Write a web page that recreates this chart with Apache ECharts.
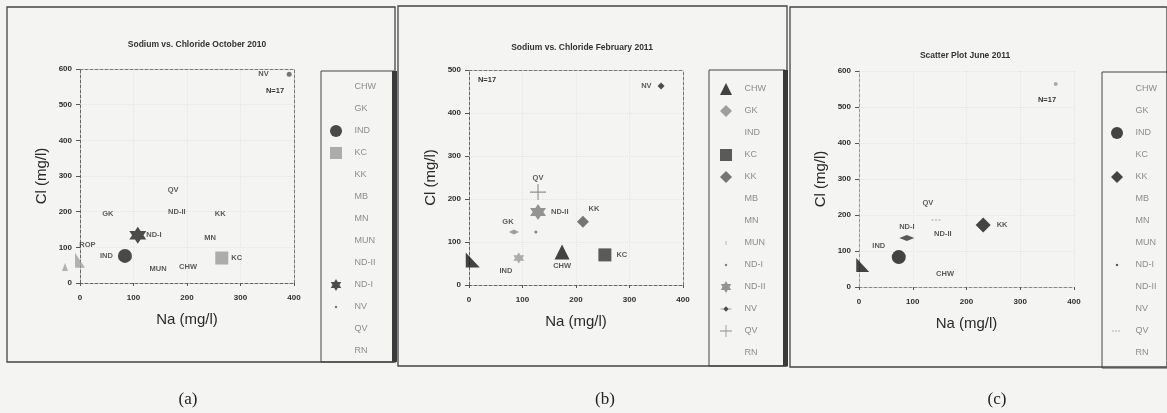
<!DOCTYPE html>
<html><head><meta charset="utf-8">
<script src="https://cdn.jsdelivr.net/npm/echarts@6/dist/echarts.min.js"></script>
<style>html,body{margin:0;padding:0;background:#f4f4f2}#c{width:1167px;height:413px}</style>
</head><body><div id="c"></div>
<script>
// ---------- data ----------
const LEGEND_A  = ['CHW','GK','IND','KC','KK','MB','MN','MUN','ND-II','ND-I','NV','QV','RN'];
const LEGEND_BC = ['CHW','GK','IND','KC','KK','MB','MN','MUN','ND-I','ND-II','NV','QV','RN'];

const NA_MAX = 400, NA_STEP = 100;
const CL_STEP = 100;
const octClMax = 600, febClMax = 500, junClMax = 600;

// (a) October 2010
const octSites = ['IND','KC','ND-I','NV','CHW','GK','KK','MN','MUN','ND-II','QV','ROP'];
const octNa    = [84, 265, 108, 391, 202, 52, 262, 243, 146, 181, 174, 14];
const octCl    = [76, 70, 134, 585, 45, 193, 193, 126, 39, 199, 260, 106];
const octExtraNa = [0, -28];
const octExtraCl = [64, 45];

// (b) February 2011
const febSites = ['CHW','GK','IND','KC','KK','ND-I','ND-II','NV','QV'];
const febNa    = [174, 84, 69, 254, 213, 125, 129, 359, 129];
const febCl    = [77, 123, 33, 70, 147, 123, 170, 463, 216];
const febExtraNa = [7, 93];
const febExtraCl = [58, 63];

// (c) June 2011
const junSites = ['CHW','IND','KK','ND-I','ND-II','NV','QV'];
const junNa    = [160, 74, 231, 89, 156, 366, 145];
const junCl    = [36, 83, 172, 136, 147, 564, 186];
const junExtraNa = [7];
const junExtraCl = [61];

// ---------- symbols & styles ----------
const STAR6 = 'path://M0,-10L2.89,-5L8.66,-5L5.77,0L8.66,5L2.89,5L0,10L-2.89,5L-8.66,5L-5.77,0L-8.66,-5L-2.89,-5Z';
const RTRI = 'path://M0,0L0,10L10,10Z';
const PLUS = 'path://M-0.7,-10L0.7,-10L0.7,-0.7L10,-0.7L10,0.7L0.7,0.7L0.7,10L-0.7,10L-0.7,0.7L-10,0.7L-10,-0.7L-0.7,-0.7Z';
const DOT_SMALL = 'path://M-10,-10M10,10M-1.8,-1.8L1.8,-1.8L1.8,1.8L-1.8,1.8Z';
const TICK_SMALL = 'path://M-10,-10M10,10M-0.6,-3.5L0.6,-3.5L0.6,3.5L-0.6,3.5Z';
const NV_B = 'path://M-10,-10M10,10M-9,-0.6L9,-0.6L9,0.6L-9,0.6Z M0,-4.5L4.5,0L0,4.5L-4.5,0Z';
const DASH_SMALL = 'path://M-10,-10M10,10M-8,-0.7L-5,-0.7L-5,0.7L-8,0.7Z M-3,-0.7L0,-0.7L0,0.7L-3,0.7Z M2,-0.7L5,-0.7L5,0.7L2,0.7Z';

const styleA = {
  IND: {symbol:'circle', size:14, color:'#1e1e1e', pos:'left', dist:5},
  KC: {symbol:'rect', size:13, color:'#9a9a9a', pos:'right', dist:3},
  'ND-I': {symbol:STAR6, size:17, color:'#222', pos:'right', dist:0},
  NV: {symbol:'circle', size:5, color:'#555', pos:'left', dist:18, icon:DOT_SMALL}
};
const extraA = [{symbol:RTRI, size:[10,15], color:'#a0a0a0'}, {symbol:'triangle', size:[6,8], color:'#a0a0a0'}];

const styleB = {
  CHW: {symbol:'triangle', size:15, color:'#151515', pos:'bottom', dist:3},
  GK: {symbol:'diamond', size:[10,5], color:'#8a8a8a', pos:'top', dist:4, off:[-6,0]},
  KC: {symbol:'rect', size:13, color:'#333', pos:'right', dist:5},
  KK: {symbol:'diamond', size:12, color:'#555', pos:'top', dist:3, off:[11,0]},
  MUN: {symbol:TICK_SMALL, size:12, color:'#888'},
  'ND-I': {symbol:'circle', size:3, color:'#666', noLabel:true, icon:DOT_SMALL},
  'ND-II': {symbol:STAR6, size:16, color:'#7a7a7a', pos:'right', dist:5},
  NV: {symbol:'diamond', size:7, color:'#222', pos:'left', dist:6, icon:NV_B},
  QV: {symbol:PLUS, size:16, color:'#777', pos:'top', dist:2}
};
const extraB = [{symbol:RTRI, size:[14,15], color:'#161616'}, {symbol:STAR6, size:11, color:'#9a9a9a'}];

const styleC = {
  IND: {symbol:'circle', size:14, color:'#161616', pos:'top', dist:3, off:[-20,3]},
  KK: {symbol:'diamond', size:15, color:'#161616', pos:'right', dist:6},
  'ND-I': {symbol:'diamond', size:[15,6], color:'#333', pos:'top', dist:4, icon:DOT_SMALL},
  NV: {symbol:'circle', size:4, color:'#999', noLabel:true, legendColor:'rgba(0,0,0,0)'},
  QV: {symbol:DASH_SMALL, size:14, color:'#999', pos:'top', dist:4, off:[-9,-2]}
};
const extraC = [{symbol:RTRI, size:[13,14], color:'#161616'}];

// ---------- builders ----------
function build(p, ai, order, sites, na, cl, styles, exNa, exCl, exSt){
  const series = [];
  const names = order.slice();
  sites.forEach(s => { if (!names.includes(s)) names.push(s); });
  names.forEach(site => {
    const st = styles[site] || {};
    const data = [];
    sites.forEach((s, i) => { if (s === site) data.push([na[i], cl[i]]); });
    series.push({
      type:'scatter', name:p + ':' + site, xAxisIndex:ai, yAxisIndex:ai, data,
      symbol: st.symbol || 'circle', symbolSize: st.size || 6, clip:false, silent:true,
      itemStyle:{color: st.color || 'rgba(0,0,0,0)'},
      label:{show: !st.noLabel, formatter: site, position: st.pos || 'inside',
        distance: st.dist == null ? 3 : st.dist, offset: st.off || [0,0],
        color:'#333', fontSize:7.5, fontWeight:'bold', fontFamily:'Liberation Sans'},
      emphasis:{disabled:true}, z:3
    });
  });
  exNa.forEach((x, i) => {
    const st = exSt[i];
    series.push({type:'scatter', name:p + ':~' + i, xAxisIndex:ai, yAxisIndex:ai,
      data:[[x, exCl[i]]], symbol:st.symbol, symbolSize:st.size, clip:false, silent:true,
      itemStyle:{color:st.color}, emphasis:{disabled:true}, z:2});
  });
  return series;
}
function legend(p, order, styles, left, top){
  return {
    data: order.map(s => {
      const st = styles[s] || {};
      const it = {name: p + ':' + s};
      if (st.icon) it.icon = st.icon;
      if (st.legendColor) it.itemStyle = {color: st.legendColor};
      return it;
    }),
    orient:'vertical', left, top, padding:0, itemWidth:12, itemHeight:12, itemGap:10,
    selectedMode:false, formatter: n => '   ' + n.split(':')[1],
    textStyle:{fontSize:9, color:'#8c8c8c', fontFamily:'Liberation Sans'}
  };
}
const tickLbl = {fontSize:8, fontWeight:'bold', color:'#2e2e2e', fontFamily:'Liberation Sans'};
const dashLine = (c) => ({show:true, onZero:false, lineStyle:{color:c, type:[3,2], width:1}});
function mainX(g, axisColor){
  return {type:'value', gridIndex:g, min:0, max:NA_MAX, interval:NA_STEP, position:'bottom',
    name:'Na (mg/l)', nameLocation:'middle', nameGap:29,
    nameTextStyle:{fontSize:15, color:'#2a2a2a', fontFamily:'Liberation Sans'},
    axisLine: dashLine(axisColor), axisTick:{show:true, length:3, lineStyle:{color:'#555'}},
    axisLabel:Object.assign({margin:11}, tickLbl),
    splitLine:{show:true, lineStyle:{color:'#e6e6e4', type:'dotted'}}};
}
function mainY(g, max, axisColor){
  return {type:'value', gridIndex:g, min:0, max, interval:CL_STEP, position:'left',
    name:'Cl (mg/l)', nameLocation:'middle', nameGap:31,
    nameTextStyle:{fontSize:15, color:'#2a2a2a', fontFamily:'Liberation Sans'},
    axisLine: dashLine(axisColor), axisTick:{show:true, length:4, lineStyle:{color:'#555'}},
    axisLabel:Object.assign({margin:8}, tickLbl),
    splitLine:{show:true, lineStyle:{color:'#e6e6e4', type:'dotted'}}};
}
function borderAx(g, pos, max){
  return {type:'value', gridIndex:g, min:0, max, position:pos, axisLine:dashLine('#777'),
    axisTick:{show:false}, axisLabel:{show:false}, splitLine:{show:false}};
}

const series = [].concat(
  build('a', 0, LEGEND_A, octSites, octNa, octCl, styleA, octExtraNa, octExtraCl, extraA),
  build('b', 1, LEGEND_BC, febSites, febNa, febCl, styleB, febExtraNa, febExtraCl, extraB),
  build('c', 2, LEGEND_BC, junSites, junNa, junCl, styleC, junExtraNa, junExtraCl, extraC)
);

const frame = (x, y, w, h, lw) => ({type:'rect', shape:{x, y, width:w, height:h},
  style:{fill:'none', stroke:'#444', lineWidth:lw || 1.3}, silent:true});
const bar = (x, y, w, h) => ({type:'rect', shape:{x, y, width:w, height:h}, style:{fill:'#3a3a3a'}, silent:true});
const txt = (x, y, text, font, fill) => ({type:'text', x, y, silent:true,
  style:{text, font, fill: fill || '#333', align:'center', verticalAlign:'middle'}});

const option = {
  backgroundColor:'#f4f4f2',
  animation:false,
  grid:[
    {left:80, top:69, width:214, height:214, outerBoundsMode:'none'},
    {left:469, top:70, width:214, height:215, outerBoundsMode:'none'},
    {left:859, top:71, width:215, height:216, outerBoundsMode:'none'}
  ],
  xAxis:[mainX(0,'#666'), mainX(1,'#666'), mainX(2,'#888'), borderAx(0,'top',NA_MAX), borderAx(1,'top',NA_MAX)],
  yAxis:[mainY(0,octClMax,'#666'), mainY(1,febClMax,'#666'), mainY(2,junClMax,'#999'),
         borderAx(0,'right',octClMax), borderAx(1,'right',febClMax)],
  legend:[
    legend('a', LEGEND_A, styleA, 330, 81),
    legend('b', LEGEND_BC, styleB, 720, 83),
    legend('c', LEGEND_BC, styleC, 1111, 83)
  ],
  series,
  graphic:[
    frame(7, 7, 388, 355), frame(398, 6, 389, 360), frame(790, 7, 377, 360),
    frame(321, 71, 73, 291, 1), frame(709, 70, 76, 296, 1), frame(1102, 72, 66, 296, 1),
    bar(392, 71, 5, 291), bar(783, 70, 5, 296),
    txt(197, 45, 'Sodium vs. Chloride October 2010', 'bold 8.5px "Liberation Sans"'),
    txt(582, 48, 'Sodium vs. Chloride February 2011', 'bold 8.5px "Liberation Sans"'),
    txt(965, 56, 'Scatter Plot June 2011', 'bold 8.5px "Liberation Sans"'),
    txt(275, 91, 'N=17', 'bold 7.5px "Liberation Sans"'),
    txt(487, 80, 'N=17', 'bold 7.5px "Liberation Sans"'),
    txt(1047, 100, 'N=17', 'bold 7.5px "Liberation Sans"'),
    txt(188, 400, '(a)', '17px "Liberation Serif"', '#222'),
    txt(605, 400, '(b)', '17px "Liberation Serif"', '#222'),
    txt(997, 400, '(c)', '17px "Liberation Serif"', '#222')
  ]
};
const chart = echarts.init(document.getElementById('c'), null, {renderer:'canvas'});
chart.setOption(option);
</script></body></html>
